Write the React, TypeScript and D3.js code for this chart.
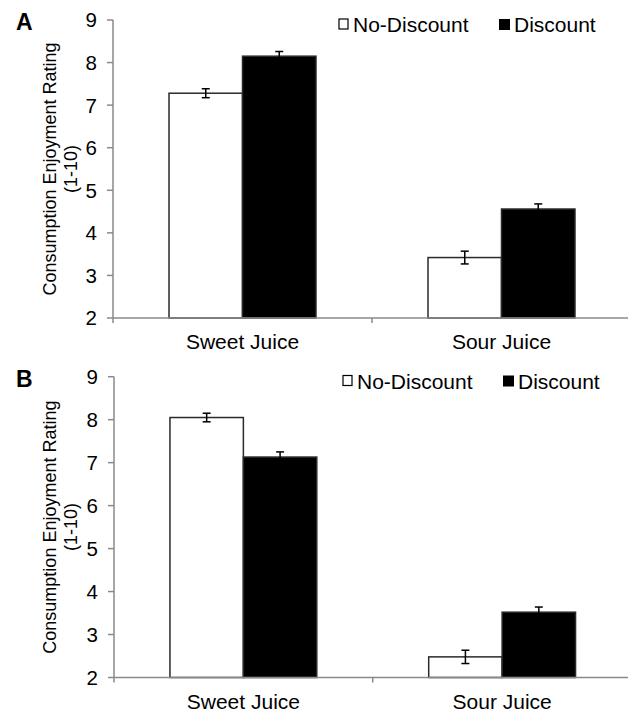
import React from "react";
import * as d3 from "d3";

const categories = ["Sweet Juice", "Sour Juice"];
const series = ["No-Discount", "Discount"];
const yTicks = [2, 3, 4, 5, 6, 7, 8, 9];

const panelAValues = { "No-Discount": [7.28, 3.42], Discount: [8.15, 4.56] };
const panelAErrors = { "No-Discount": [0.105, 0.15], Discount: [0.11, 0.12] };
const panelBValues = { "No-Discount": [8.05, 2.48], Discount: [7.13, 3.52] };
const panelBErrors = { "No-Discount": [0.1, 0.155], Discount: [0.12, 0.12] };

const seriesFill: Record<string, string> = { "No-Discount": "#ffffff", Discount: "#000000" };

const FONT = "Arial, 'Liberation Sans', Helvetica, sans-serif";
const AXIS = "#8a8a8a";

type PanelProps = {
  label: string;
  top: number;
  bottom: number;
  x0: number;
  x1: number;
  values: Record<string, number[]>;
  errors: Record<string, number[]>;
  legendY: number;
  legendX: number;
};

function Panel({ label, top, bottom, x0, x1, values, errors, legendY, legendX }: PanelProps) {
  const y = d3.scaleLinear().domain([2, 9]).range([bottom, top]);
  const xBand = d3.scaleBand<string>().domain(categories).range([x0, x1]).padding(0);
  const xSeries = d3
    .scaleBand<string>()
    .domain(series)
    .range([0, xBand.bandwidth()])
    .paddingInner(0)
    .paddingOuter(0.762);
  const midY = (top + bottom) / 2;
  const catTickXs = [x0, ...categories.map((c) => (xBand(c) as number) + xBand.bandwidth())];

  return (
    <g>
      <text x={16} y={top + 10} fontFamily={FONT} fontWeight="bold" fontSize={23} fill="#000">
        {label}
      </text>
      <text
        transform={`translate(55.5,${midY}) rotate(-90)`}
        textAnchor="middle"
        fontFamily={FONT}
        fontSize={18}
        fill="#000"
      >
        Consumption Enjoyment Rating
      </text>
      <text
        transform={`translate(76.5,${midY}) rotate(-90)`}
        textAnchor="middle"
        fontFamily={FONT}
        fontSize={18}
        fill="#000"
      >
        (1-10)
      </text>
      <line x1={x0} x2={x0} y1={top} y2={bottom} stroke={AXIS} strokeWidth={1.5} />
      {yTicks.map((t) => (
        <g key={t}>
          <line x1={x0 - 6} x2={x0} y1={y(t)} y2={y(t)} stroke={AXIS} strokeWidth={1.5} />
          <text
            x={x0 - 16}
            y={y(t)}
            dy="0.36em"
            textAnchor="end"
            fontFamily={FONT}
            fontSize={20.5}
            fill="#000"
          >
            {t}
          </text>
        </g>
      ))}
      {categories.map((c, ci) =>
        series.map((s) => {
          const bx = (xBand(c) as number) + (xSeries(s) as number);
          const bw = xSeries.bandwidth();
          const v = values[s][ci];
          const e = errors[s][ci];
          const cx = bx + bw / 2;
          return (
            <g key={c + s}>
              <rect
                x={bx}
                y={y(v)}
                width={bw}
                height={y(2) - y(v)}
                fill={seriesFill[s]}
                stroke="#2a2a2a"
                strokeWidth={1.5}
              />
              <line x1={cx} x2={cx} y1={y(v + e)} y2={y(v - e)} stroke="#000" strokeWidth={1.5} />
              <line x1={cx - 4} x2={cx + 4} y1={y(v + e)} y2={y(v + e)} stroke="#000" strokeWidth={1.5} />
              <line x1={cx - 4} x2={cx + 4} y1={y(v - e)} y2={y(v - e)} stroke="#000" strokeWidth={1.5} />
            </g>
          );
        })
      )}
      <line x1={x0} x2={x1} y1={bottom} y2={bottom} stroke={AXIS} strokeWidth={1.5} />
      {catTickXs.map((tx, i) => (
        <line key={i} x1={tx} x2={tx} y1={bottom} y2={bottom + 5} stroke={AXIS} strokeWidth={1.5} />
      ))}
      {categories.map((c) => (
        <text
          key={c}
          x={(xBand(c) as number) + xBand.bandwidth() / 2}
          y={bottom + 31}
          textAnchor="middle"
          fontFamily={FONT}
          fontSize={21}
          fill="#000"
        >
          {c}
        </text>
      ))}
      <rect x={legendX} y={legendY - 5.5} width={9} height={10} fill="#fff" stroke="#000" strokeWidth={1.2} />
      <text x={legendX + 14} y={legendY} dy="0.36em" fontFamily={FONT} fontSize={21} fill="#000">
        {series[0]}
      </text>
      <rect x={legendX + 160} y={legendY - 5.5} width={11} height={11} fill="#000" />
      <text x={legendX + 175} y={legendY} dy="0.36em" fontFamily={FONT} fontSize={21} fill="#000">
        {series[1]}
      </text>
    </g>
  );
}

export default function App() {
  return (
    <svg width={620} height={705} style={{ display: "block", background: "#fff" }} viewBox="8 8 620 705">
      <rect x={0} y={0} width={636} height={713} fill="#fff" />
      <Panel
        label="A"
        top={20}
        bottom={318}
        x0={113}
        x1={631}
        values={panelAValues}
        errors={panelAErrors}
        legendY={24.5}
        legendX={339}
      />
      <Panel
        label="B"
        top={376.7}
        bottom={677.5}
        x0={114}
        x1={631.5}
        values={panelBValues}
        errors={panelBErrors}
        legendY={381}
        legendX={343}
      />
    </svg>
  );
}
